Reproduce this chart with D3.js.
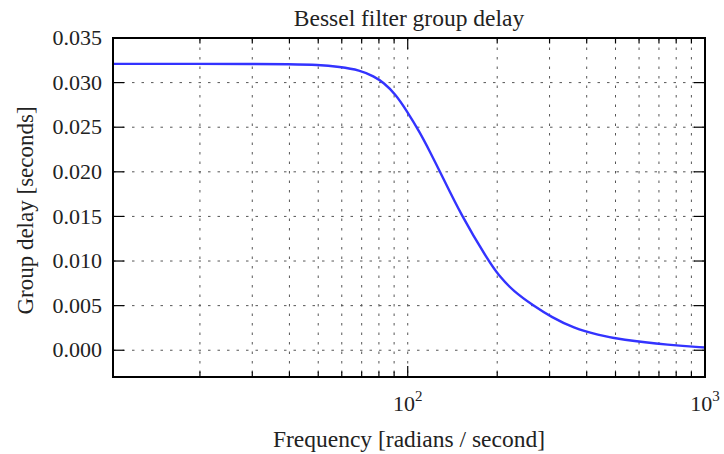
<!DOCTYPE html>
<html>
<head>
    <meta charset="utf-8">
    <script src="https://d3js.org/d3.v7.min.js"></script>
    <style>
        body { margin: 0; background: #fff; }
        text { font-family: "Liberation Serif", "DejaVu Serif", serif; fill: #222; }
        .grid line { stroke: #555; stroke-width: 1; stroke-dasharray: 2.5, 7; }
        .tick-mark { stroke: #000; stroke-width: 1.2; }
    </style>
</head>
<body>
    <div id="chart"></div>
    <script>
        // values
        var freq = [10.2, 20, 30, 40, 50, 59, 69, 77, 83, 91, 99, 110, 119, 128.5, 152, 187, 202, 227, 265, 305,
                    361, 438, 519, 764, 1000];
        var delay = [0.0321, 0.0321, 0.0321, 0.03205, 0.0320, 0.03177, 0.0314, 0.0307, 0.0300, 0.0287, 0.0269,
                     0.0244, 0.0222, 0.0200, 0.0150, 0.0100, 0.0084, 0.0066, 0.0050, 0.0037, 0.0025, 0.0017,
                     0.0012, 0.00056, 0.0003];
        var yTicks = [0.000, 0.005, 0.010, 0.015, 0.020, 0.025, 0.030, 0.035];
        var xMajor = [100, 1000];
        var xMinor = [20, 30, 40, 50, 60, 70, 80, 90, 200, 300, 400, 500, 600, 700, 800, 900];

        var margin = { top: 38, left: 113, bottom: 77, right: 19 };
        var W = 724, H = 454;
        var width = W - margin.left - margin.right;
        var height = H - margin.top - margin.bottom;

        var svg = d3.select("#chart").append("svg")
            .attr("width", W)
            .attr("height", H);

        var g = svg.append("g")
            .attr("transform", "translate(" + margin.left + "," + margin.top + ")");

        var x = d3.scaleLog().domain([10.2, 1000]).range([0, width]);
        var y = d3.scaleLinear().domain([-0.003, 0.035]).range([height, 0]);

        // grid
        var grid = g.append("g").attr("class", "grid");
        grid.selectAll(".gx")
            .data(xMajor.concat(xMinor))
            .enter().append("line")
            .attr("x1", function (d) { return x(d); })
            .attr("x2", function (d) { return x(d); })
            .attr("y1", 0)
            .attr("y2", height);
        grid.selectAll(".gy")
            .data(yTicks)
            .enter().append("line")
            .attr("x1", 0)
            .attr("x2", width)
            .attr("y1", function (d) { return y(d); })
            .attr("y2", function (d) { return y(d); });

        // curve (basis spline smooths the reading noise)
        var line = d3.line()
            .x(function (d) { return x(d[0]); })
            .y(function (d) { return y(d[1]); })
            .curve(d3.curveBasis);

        g.append("path")
            .datum(d3.zip(freq, delay))
            .attr("d", line)
            .attr("fill", "none")
            .attr("stroke", "#3333ff")
            .attr("stroke-width", 2.4);

        // ticks, inside on all four sides
        var ticks = g.append("g");
        function xTick(d, len) {
            ticks.append("line").attr("class", "tick-mark")
                .attr("x1", x(d)).attr("x2", x(d)).attr("y1", height).attr("y2", height - len);
            ticks.append("line").attr("class", "tick-mark")
                .attr("x1", x(d)).attr("x2", x(d)).attr("y1", 0).attr("y2", len);
        }
        xMajor.forEach(function (d) { xTick(d, 11); });
        xMinor.forEach(function (d) { xTick(d, 5.5); });
        yTicks.forEach(function (d) {
            ticks.append("line").attr("class", "tick-mark")
                .attr("x1", 0).attr("x2", 11).attr("y1", y(d)).attr("y2", y(d));
            ticks.append("line").attr("class", "tick-mark")
                .attr("x1", width).attr("x2", width - 11).attr("y1", y(d)).attr("y2", y(d));
        });

        // frame
        g.append("rect")
            .attr("width", width)
            .attr("height", height)
            .attr("fill", "none")
            .attr("stroke", "#000")
            .attr("stroke-width", 2);

        // y tick labels
        g.selectAll(".ylab")
            .data(yTicks)
            .enter().append("text")
            .attr("x", -11)
            .attr("y", function (d) { return y(d); })
            .attr("dy", "0.33em")
            .attr("text-anchor", "end")
            .style("font-size", "22px")
            .text(d3.format(".3f"));

        // x tick labels 10^n
        var xl = g.selectAll(".xlab")
            .data(xMajor)
            .enter().append("text")
            .attr("x", function (d) { return x(d); })
            .attr("y", height + 34)
            .attr("text-anchor", "middle")
            .style("font-size", "22px");
        xl.append("tspan").text("10");
        xl.append("tspan")
            .attr("dy", -10)
            .style("font-size", "15px")
            .text(function (d) { return Math.round(Math.log10(d)); });

        // title and axis labels
        g.append("text")
            .attr("x", width / 2)
            .attr("y", -12)
            .attr("text-anchor", "middle")
            .style("font-size", "23.5px")
            .text("Bessel filter group delay");

        g.append("text")
            .attr("x", width / 2)
            .attr("y", height + 70)
            .attr("text-anchor", "middle")
            .style("font-size", "23.5px")
            .text("Frequency [radians / second]");

        g.append("text")
            .attr("transform", "translate(" + (-80) + "," + (height / 2 + 3) + ") rotate(-90)")
            .attr("text-anchor", "middle")
            .style("font-size", "23px")
            .text("Group delay [seconds]");
    </script>
</body>
</html>
